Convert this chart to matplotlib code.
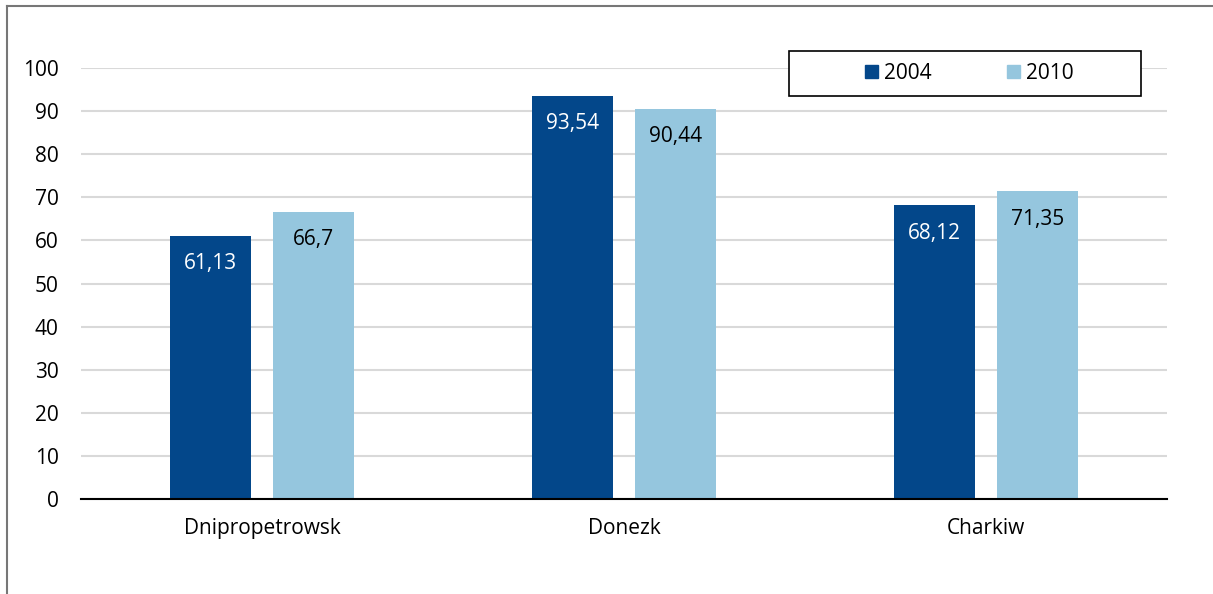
import matplotlib.pyplot as plt
import numpy as np
from matplotlib.patches import Rectangle, Patch
from matplotlib.lines import Line2D

# Werte aus der Grafik
regions = ["Dnipropetrowsk", "Donezk", "Charkiw"]
values_2004 = [61.13, 93.54, 68.12]
values_2010 = [66.7, 90.44, 71.35]
series_names = ["2004", "2010"]
y_ticks = [0, 10, 20, 30, 40, 50, 60, 70, 80, 90, 100]

dark_blue = "#03478A"
light_blue = "#95C6DE"
fs = 15

plt.rcParams['font.family'] = ['Open Sans', 'DejaVu Sans']

fig = plt.figure(figsize=(12.13, 5.94), dpi=100)
ax = fig.add_axes([81 / 1213, 95 / 594, 1086 / 1213, 431 / 594])

x = np.arange(len(regions))
width = 0.224
offset = 0.142

bars1 = ax.bar(x - offset, values_2004, width, color=dark_blue, zorder=3)
bars2 = ax.bar(x + offset, values_2010, width, color=light_blue, zorder=3)

# Werte in die Balken schreiben (deutsches Dezimalkomma)
def fmt(v):
    s = f"{v:.2f}".rstrip("0").rstrip(".")
    return s.replace(".", ",")

for bars, vals, col in [(bars1, values_2004, "white"), (bars2, values_2010, "black")]:
    for b, v in zip(bars, vals):
        ax.annotate(fmt(v), (b.get_x() + b.get_width() / 2, v),
                    xytext=(0, -20), textcoords="offset points",
                    ha="center", va="center", color=col, fontsize=fs, zorder=4)

ax.set_xlim(-0.5, 2.5)
ax.set_ylim(0, 100)
ax.set_yticks(y_ticks)
ax.set_xticks(x)
ax.set_xticklabels(regions)
ax.tick_params(axis="y", length=0, pad=16, labelsize=fs)
ax.tick_params(axis="x", length=0, pad=14, labelsize=fs)

ax.grid(axis="y", color="#d9d9d9", linewidth=1.5, zorder=0)
for s in ["top", "right", "left"]:
    ax.spines[s].set_visible(False)
ax.spines["bottom"].set_linewidth(1.5)
ax.spines["bottom"].set_color("black")
ax.spines["bottom"].set_zorder(5)

# Legendenkasten
fig.patches.append(Rectangle((789 / 1213, 498 / 594), 352 / 1213, 45 / 594,
                             transform=fig.transFigure, facecolor="white",
                             edgecolor="black", linewidth=1.2, zorder=5))
handles = [Patch(color=dark_blue), Patch(color=light_blue)]
fig.legend(handles, series_names, loc="center", ncol=2, frameon=False,
           bbox_to_anchor=(969 / 1213, (594 - 73.5) / 594),
           fontsize=fs, handlelength=0.63, handleheight=0.63,
           handletextpad=0.3, columnspacing=3.6)

# Rahmen der Abbildung (links und oben)
fig.add_artist(Line2D([7 / 1213, 7 / 1213], [0, 1 - 6 / 594], transform=fig.transFigure,
                      color="#777777", linewidth=1.5))
fig.add_artist(Line2D([7 / 1213, 1], [1 - 6 / 594, 1 - 6 / 594], transform=fig.transFigure,
                      color="#777777", linewidth=1.5))

fig.savefig("out.png", dpi=100)
